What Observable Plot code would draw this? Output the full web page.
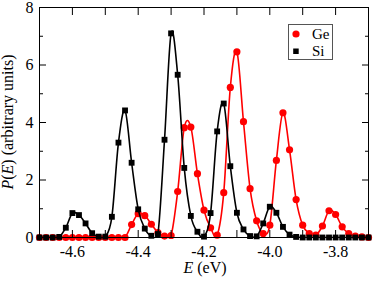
<!DOCTYPE html>
<html>
<head>
<meta charset="utf-8">
<script src="https://cdn.jsdelivr.net/npm/d3@7"></script>
<script src="https://cdn.jsdelivr.net/npm/@observablehq/plot@0.6"></script>
<style>
  html, body { margin: 0; padding: 0; background: #fff; }
  #wrap { position: relative; width: 374px; height: 281px; font-family: "Liberation Serif", "Times New Roman", serif; }
  #wrap svg text { font-family: "Liberation Serif", "Times New Roman", serif; }
  #legend { position: absolute; left: 288px; top: 24px; width: 45px; height: 36px; border: 1px solid #555; background: #fff; box-sizing: border-box; }
</style>
</head>
<body>
<div id="wrap"></div>
<script>
// Energies (eV)
const energy = [-4.70, -4.68, -4.66, -4.64, -4.62, -4.60, -4.58, -4.56, -4.54, -4.52,
                -4.50, -4.48, -4.46, -4.44, -4.42, -4.40, -4.38, -4.36, -4.34, -4.32,
                -4.30, -4.28, -4.26, -4.24, -4.22, -4.20, -4.18, -4.16, -4.14, -4.12,
                -4.10, -4.08, -4.06, -4.04, -4.02, -4.00, -3.98, -3.96, -3.94, -3.92,
                -3.90, -3.88, -3.86, -3.84, -3.82, -3.80, -3.78, -3.76, -3.74, -3.72, -3.70];
// P(E) for Ge
const geValues = [0, 0, 0, 0, 0, 0, 0, 0, 0, 0,
                  0, 0, 0, 0, 0.45, 0.83, 0.76, 0.46, 0.17, 0.05,
                  0.07, 1.60, 3.82, 3.84, 2.22, 0.95, 0.34, 0.08, 1.56, 5.22,
                  6.46, 4.03, 1.70, 0.58, 0.14, 0.43, 2.68, 4.34, 3.05, 1.32,
                  0.43, 0.14, 0.08, 0.40, 0.93, 0.80, 0.37, 0.14, 0.05, 0.02, 0];
// P(E) for Si
const siValues = [0, 0, 0, 0.02, 0.34, 0.85, 0.78, 0.49, 0.15, 0.03,
                  0.03, 0.72, 3.30, 4.42, 2.60, 0.98, 0.31, 0.06, 0.12, 3.40,
                  7.10, 5.66, 2.42, 0.75, 0.20, 0.03, 0.85, 3.69, 4.66, 2.48,
                  0.86, 0.28, 0.05, 0.04, 0.49, 1.07, 0.86, 0.37, 0.10, 0.02,
                  0, 0, 0, 0, 0, 0, 0, 0, 0, 0, 0];
const xMajor = [-4.6, -4.4, -4.2, -4.0, -3.8];
const xMinor = [-4.7, -4.5, -4.3, -4.1, -3.9, -3.7];
const yMajor = [0, 2, 4, 6, 8];
const yMinor = [1, 3, 5, 7];
const seriesNames = ["Ge", "Si"];

const ge = energy.map((e, i) => ({E: e, P: geValues[i]}));
const si = energy.map((e, i) => ({E: e, P: siValues[i]}));

const font = {fontSize: 16, fontFamily: "Liberation Serif"};
const blank = () => "";

const plot = Plot.plot({
  width: 374,
  height: 281,
  marginLeft: 39,
  marginRight: 6,
  marginTop: 7,
  marginBottom: 44,
  style: {fontFamily: "Liberation Serif", fontSize: "16px", color: "black", background: "white"},
  x: {domain: [-4.7, -3.7]},
  y: {domain: [0, 8]},
  marks: [
    Plot.line(ge, {x: "E", y: "P", curve: "cardinal", stroke: "#ff0000", strokeWidth: 1.6, clip: true}),
    Plot.dot(ge, {x: "E", y: "P", r: 3.6, fill: "#ff0000", stroke: null}),
    Plot.line(si, {x: "E", y: "P", curve: "cardinal", stroke: "black", strokeWidth: 1.6, clip: true}),
    Plot.dot(si, {x: "E", y: "P", symbol: "square", r: 3.3, fill: "black", stroke: null}),
    Plot.frame({stroke: "black", strokeWidth: 1}),
    Plot.axisX({anchor: "bottom", ticks: xMajor, tickSize: -7, tickPadding: 15, tickFormat: d => d.toFixed(1), label: null, ...font}),
    Plot.axisX({anchor: "bottom", ticks: xMinor, tickSize: -7, tickFormat: blank, label: null}),
    Plot.axisX({anchor: "top", ticks: xMajor, tickSize: -7, tickFormat: blank, label: null}),
    Plot.axisX({anchor: "top", ticks: xMinor, tickSize: -7, tickFormat: blank, label: null}),
    Plot.axisY({anchor: "left", ticks: yMajor, tickSize: -7, tickPadding: 13, tickFormat: d => String(d), label: null, ...font}),
    Plot.axisY({anchor: "left", ticks: yMinor, tickSize: -4, tickFormat: blank, label: null}),
    Plot.axisY({anchor: "right", ticks: yMajor, tickSize: -7, tickFormat: blank, label: null}),
    Plot.axisY({anchor: "right", ticks: yMinor, tickSize: -4, tickFormat: blank, label: null})
  ]
});

const wrap = document.getElementById("wrap");
wrap.appendChild(plot);

// Axis titles with italic symbols
const svg = d3.select(plot);
const xl = svg.append("text")
  .attr("x", 205).attr("y", 273)
  .attr("text-anchor", "middle")
  .attr("font-size", 16)
  .attr("fill", "black");
xl.append("tspan").attr("font-style", "italic").text("E");
xl.append("tspan").text(" (eV)");

const yl = svg.append("text")
  .attr("transform", "translate(13,122) rotate(-90)")
  .attr("text-anchor", "middle")
  .attr("font-size", 16)
  .attr("fill", "black");
yl.append("tspan").attr("font-style", "italic").text("P");
yl.append("tspan").text("(");
yl.append("tspan").attr("font-style", "italic").text("E");
yl.append("tspan").text(") (arbitrary units)");

// Legend
const legend = d3.select(wrap).append("div").attr("id", "legend");
const ls = legend.append("svg").attr("width", 43).attr("height", 34);
ls.append("circle").attr("cx", 7).attr("cy", 9).attr("r", 3.6).attr("fill", "#ff0000");
ls.append("rect").attr("x", 4.2).attr("y", 23.5).attr("width", 5.5).attr("height", 5.5).attr("fill", "black");
ls.append("text").attr("x", 23).attr("y", 14).attr("font-size", 15).attr("font-family", "Liberation Serif").attr("fill", "black").text(seriesNames[0]);
ls.append("text").attr("x", 23).attr("y", 31).attr("font-size", 15).attr("font-family", "Liberation Serif").attr("fill", "black").text(seriesNames[1]);
</script>
</body>
</html>
